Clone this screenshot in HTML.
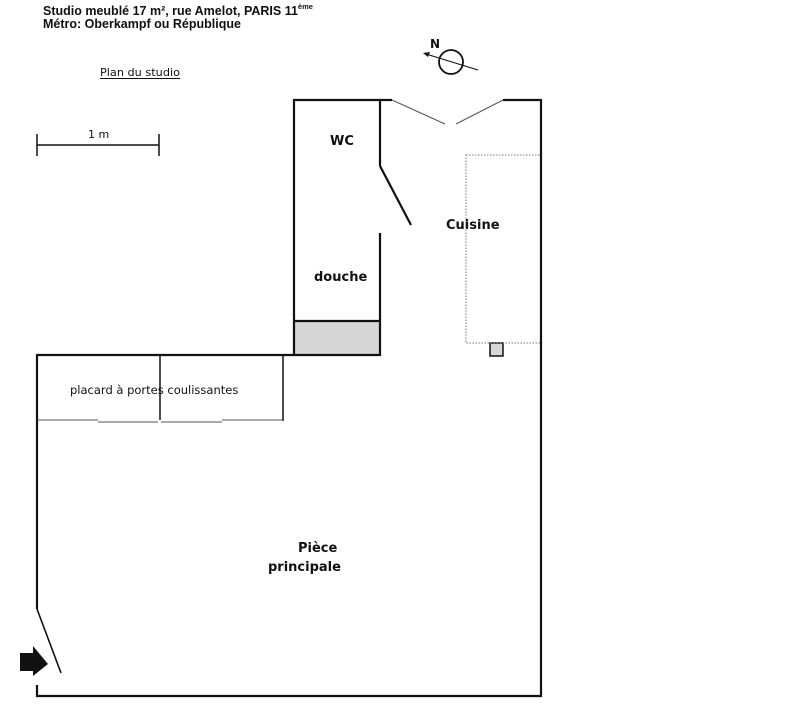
<!DOCTYPE html>
<html><head><meta charset="utf-8"><style>
body{margin:0;background:#fff;width:800px;height:720px;overflow:hidden}
svg{display:block}
text{font-family:"DejaVu Sans","Liberation Sans",sans-serif;fill:#111}
text.t{font-family:"Liberation Sans",sans-serif}
</style></head><body>
<svg width="800" height="720" viewBox="0 0 800 720">
<text class="t" x="43" y="15" font-size="12.5" font-weight="bold">Studio meublé 17 m², rue Amelot, PARIS 11<tspan font-size="7.5" dy="-6">ème</tspan></text>
<text class="t" x="43" y="28" font-size="12.5" font-weight="bold">Métro: Oberkampf ou République</text>
<text x="100" y="76" font-size="11" textLength="80" lengthAdjust="spacingAndGlyphs">Plan du studio</text>
<line x1="100" y1="78.5" x2="180" y2="78.5" stroke="#111" stroke-width="1"/>
<text x="88" y="138" font-size="11">1 m</text>
<g stroke="#111" stroke-width="1.5" fill="none">
<line x1="37" y1="145" x2="159" y2="145"/>
<line x1="37" y1="134" x2="37" y2="156"/>
<line x1="159" y1="134" x2="159" y2="156"/>
</g>
<text x="430" y="48" font-size="12" font-weight="bold">N</text>
<circle cx="451" cy="62" r="12" stroke="#111" stroke-width="1.8" fill="none"/>
<line x1="426" y1="54" x2="478" y2="70" stroke="#111" stroke-width="1"/>
<polygon points="423,53 430,52 428,57" fill="#111"/>
<rect x="295" y="321" width="85" height="34" fill="#d6d6d6"/>
<rect x="490" y="343" width="13" height="13" fill="#d6d6d6" stroke="#111" stroke-width="1.5"/>
<rect x="466" y="155" width="75" height="188" fill="none" stroke="#777" stroke-width="1" stroke-dasharray="1.5,1.5"/>
<g stroke="#111" stroke-width="2.2" fill="none">
<polyline points="380,166 380,100 294,100 294,355"/>
<line x1="380" y1="100" x2="392" y2="100"/>
<polyline points="503,100 541,100 541,696 37,696 37,685"/>
<polyline points="37,609 37,355 380,355 380,233"/>
<line x1="294" y1="321" x2="380" y2="321"/>
<line x1="380" y1="166" x2="411" y2="225"/>
<line x1="37" y1="609" x2="61" y2="673" stroke-width="1.6"/>
<line x1="160" y1="355" x2="160" y2="420" stroke-width="1.5"/>
<line x1="283" y1="355" x2="283" y2="421" stroke-width="1.5"/>
</g>
<g stroke="#555" stroke-width="1">
<line x1="392" y1="100" x2="445" y2="124"/>
<line x1="456" y1="124" x2="503" y2="100"/>
<line x1="37" y1="420" x2="98" y2="420"/>
<line x1="98" y1="422" x2="158" y2="422"/>
<line x1="161" y1="422" x2="222" y2="422"/>
<line x1="222" y1="420" x2="283" y2="420"/>
</g>
<polygon points="20,653 33,653 33,646 48,664 33,676 33,671 20,671" fill="#111"/>
<text x="330" y="145" font-size="13" font-weight="bold">WC</text>
<text x="314" y="281" font-size="13" font-weight="bold">douche</text>
<text x="446" y="229" font-size="13" font-weight="bold">Cuisine</text>
<text x="70" y="394" font-size="11.5">placard à portes coulissantes</text>
<text x="298" y="552" font-size="13" font-weight="bold">Pièce</text>
<text x="268" y="571" font-size="13" font-weight="bold">principale</text>
</svg>
</body></html>
